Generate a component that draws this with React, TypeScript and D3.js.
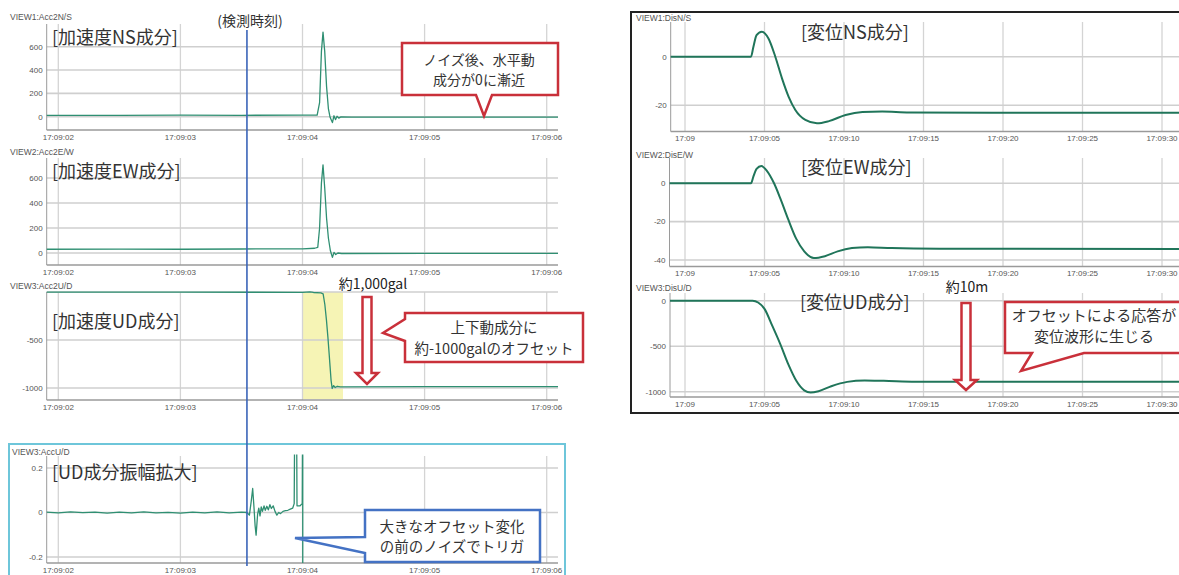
import React from "react";
import * as d3 from "d3";

type Pt = [number, number];

// time = seconds after 17:09:00
const accTimeTicks = [2, 3, 4, 5, 6];
const accTimeLabels = ["17:09:02", "17:09:03", "17:09:04", "17:09:05", "17:09:06"];
const disTimeTicks = [0, 5, 10, 15, 20, 25, 30];
const disTimeLabels = ["17:09", "17:09:05", "17:09:10", "17:09:15", "17:09:20", "17:09:25", "17:09:30"];

const triggerTime = 3.545;

const hAccTicks = [0, 200, 400, 600];
const hAccLabels = ["0", "200", "400", "600"];
const vAccTicks = [-1000, -500, 0];
const vAccLabels = ["-1000", "-500", ""];
const zoomTicks = [-0.2, 0, 0.2];
const zoomLabels = ["-0.2", "0", "0.2"];
const disNsTicks = [-20, 0];
const disNsLabels = ["-20", "0"];
const disEwTicks = [-40, -20, 0];
const disEwLabels = ["-40", "-20", "0"];
const disUdTicks = [-1000, -500, 0];
const disUdLabels = ["-1000", "-500", "0"];

const accNS: Pt[] = [
  [1.9, 12], [2.5, 11], [3.0, 13], [3.5, 12], [4.0, 14], [4.12, 13], [4.14, 120],
  [4.155, 560], [4.168, 725], [4.182, 560], [4.197, 260], [4.212, 70], [4.226, -5],
  [4.245, -50], [4.258, 8], [4.27, -25], [4.283, 4], [4.297, -12], [4.315, -2],
  [4.4, -4], [5.0, -4], [6.1, -4],
];

const accEW: Pt[] = [
  [1.9, 30], [2.5, 31], [3.0, 30], [3.5, 32], [4.0, 33], [4.1, 38], [4.125, 45],
  [4.14, 200], [4.155, 560], [4.168, 705], [4.182, 520], [4.197, 280], [4.212, 120],
  [4.228, 20], [4.245, -35], [4.258, 5], [4.272, -12], [4.29, 0], [4.32, -4],
  [5.0, -3], [6.1, -3],
];

const accUD: Pt[] = [
  [1.9, -2], [3.0, -2], [4.0, -3], [4.06, 2], [4.09, -5], [4.15, -10], [4.169, -20],
  [4.183, -130], [4.196, -290], [4.208, -470], [4.218, -640], [4.226, -780],
  [4.234, -920], [4.243, -1005], [4.255, -975], [4.268, -995], [4.285, -982],
  [4.31, -988], [5.0, -986], [6.1, -986],
];

const accUDZoom: Pt[] = [
  [1.9, 0.002], [2.0, -0.002], [2.1, 0.003], [2.2, -0.001], [2.3, 0.002], [2.4, -0.003],
  [2.5, 0.002], [2.6, -0.002], [2.7, 0.003], [2.8, -0.002], [2.9, 0.001], [3.0, -0.003],
  [3.1, 0.002], [3.2, -0.002], [3.3, 0.003], [3.4, -0.002], [3.5, 0.002], [3.545, 0],
  [3.565, -0.012], [3.58, 0.05], [3.592, 0.108], [3.603, 0.02], [3.612, -0.06],
  [3.62, -0.102], [3.632, -0.01], [3.642, 0.02], [3.652, -0.015], [3.662, 0.025],
  [3.672, 0.005], [3.685, 0.03], [3.695, 0.01], [3.708, 0.028], [3.72, 0.012],
  [3.733, 0.035], [3.745, 0.018], [3.76, 0.03], [3.775, 0.005], [3.79, -0.012],
  [3.805, 0.0], [3.82, -0.005], [3.84, 0.005], [3.86, 0.008], [3.88, 0.01], [3.9, 0.015],
  [3.92, 0.02], [3.932, 0.04], [3.938, 0.6], [3.95, 0.6], [3.955, 0.03], [3.98, 0.03],
  [3.998, 0.04], [4.002, 0.6], [4.015, -1000], [6.1, -1000],
];

const disNS: Pt[] = [
  [-1, 0], [4.15, 0], [4.3, 4], [4.5, 8.9], [4.83, 10.3], [5.25, 7.5], [5.68, 0],
  [6.1, -8.9], [6.52, -16.5], [6.94, -21.9], [7.57, -26], [8.3, -27.4], [9.05, -26.5],
  [10.1, -24], [11.16, -22.8], [12.4, -22.6], [14.1, -23], [20, -23.1], [32, -23.1],
];

const disEW: Pt[] = [
  [-1, 0], [4.15, 0], [4.3, 3.5], [4.5, 7.5], [4.8, 9], [5.15, 6.5], [5.6, 0],
  [6.0, -8], [6.5, -19], [7.0, -29], [7.5, -35.5], [8.1, -39], [8.8, -38],
  [9.6, -35.5], [10.5, -33.8], [11.5, -33.3], [13, -33.8], [16, -34.1], [32, -34.3],
];

const disUD: Pt[] = [
  [-1, 0], [4.25, 0], [4.6, -20], [5.0, -90], [5.5, -280], [6.0, -480], [6.5, -700],
  [7.0, -880], [7.5, -985], [7.9, -1010], [8.4, -995], [9.2, -940], [10.2, -892],
  [11.3, -876], [12.5, -880], [14.5, -890], [32, -892],
];

const jp = "'Noto Sans CJK JP', 'Noto Sans', sans-serif";
const small = "'Liberation Sans', Arial, sans-serif";
const accLine = "#2f8f72";
const disLine = "#20755a";
const red = "#c9303a";

type PanelProps = {
  id: string;
  x: d3.ScaleLinear<number, number>;
  y: d3.ScaleLinear<number, number>;
  box: [number, number, number, number];
  data: Pt[];
  yTicks: number[];
  yLabels: string[];
  xTicks: number[];
  xLabels: string[];
  curve: d3.CurveFactory;
  stroke: string;
  strokeWidth: number;
  label: string;
  labelPos: [number, number];
  title: string;
  titlePos: [number, number];
  under?: React.ReactNode;
};

function Panel(p: PanelProps) {
  const [l, r, t, b] = p.box;
  const { x, y } = p;
  const line = d3.line<Pt>().x((d) => x(d[0])).y((d) => y(d[1])).curve(p.curve);
  return (
    <g>
      <defs>
        <clipPath id={p.id}>
          <rect x={l} y={t - 1.5} width={r - l} height={b - t + 1.5} />
        </clipPath>
      </defs>
      {p.under}
      {p.xTicks.map((v, i) => (
        <line key={"gx" + i} x1={x(v)} x2={x(v)} y1={t} y2={b} stroke="#d4d4d4" strokeWidth={1.3} />
      ))}
      {p.yTicks.map((v, i) => (
        <line key={"gy" + i} x1={l} x2={r} y1={y(v)} y2={y(v)} stroke="#cfcfcf" strokeWidth={1.6} />
      ))}
      <line x1={l} x2={l} y1={t} y2={b} stroke="#9a9a9a" strokeWidth={1} />
      <line x1={l} x2={r} y1={b} y2={b} stroke="#9a9a9a" strokeWidth={1.5} />
      {p.yTicks.map((v, i) => (
        <text key={"ly" + i} x={l - 4} y={y(v)} dy="0.35em" textAnchor="end" fontSize={8} fill="#555" fontFamily={small}>
          {p.yLabels[i]}
        </text>
      ))}
      {p.xTicks.map((v, i) => (
        <text key={"lx" + i} x={x(v)} y={b + 7} dy="0.35em" textAnchor="middle" fontSize={8} fill="#555" fontFamily={small}>
          {p.xLabels[i]}
        </text>
      ))}
      <path
        d={line(p.data) ?? ""}
        fill="none"
        stroke={p.stroke}
        strokeWidth={p.strokeWidth}
        strokeLinejoin="round"
        clipPath={`url(#${p.id})`}
      />
      <text x={p.labelPos[0]} y={p.labelPos[1]} dy="0.35em" fontSize={8.5} fill="#555" fontFamily={small}>
        {p.label}
      </text>
      <text x={p.titlePos[0]} y={p.titlePos[1]} dy="0.35em" fontSize={18} fill="#333" fontFamily={jp}>
        {p.title}
      </text>
    </g>
  );
}

function DownArrow({ cx, top, headY, tip, shaft, head }: { cx: number; top: number; headY: number; tip: number; shaft: number; head: number }) {
  const s = shaft / 2;
  const h = head / 2;
  const d = `M${cx - s},${top} H${cx + s} V${headY} H${cx + h} L${cx},${tip} L${cx - h},${headY} H${cx - s} Z`;
  return <path d={d} fill="#fff" stroke={red} strokeWidth={2.5} strokeLinejoin="miter" />;
}

export default function App() {
  const accX = d3.scaleLinear().domain([2, 6]).range([58.3, 546.7]);
  const disX = d3.scaleLinear().domain([0, 30]).range([685, 1162]);

  const yL1 = d3.scaleLinear().domain([0, 600]).range([116.7, 46.7]);
  const yL2 = d3.scaleLinear().domain([0, 600]).range([253, 178]);
  const yL3 = d3.scaleLinear().domain([-1000, -500]).range([388, 340]);
  const yL4 = d3.scaleLinear().domain([-0.2, 0.2]).range([557, 468]);
  const yR1 = d3.scaleLinear().domain([-20, 0]).range([105.3, 56.7]);
  const yR2 = d3.scaleLinear().domain([-40, 0]).range([260, 183.3]);
  const yR3 = d3.scaleLinear().domain([-1000, 0]).range([391.7, 300.7]);

  const trigX = accX(triggerTime);

  const common = { curve: d3.curveLinear, stroke: accLine, strokeWidth: 1.3, xTicks: accTimeTicks, xLabels: accTimeLabels, x: accX };
  const right = { curve: d3.curveMonotoneX, stroke: disLine, strokeWidth: 2, xTicks: disTimeTicks, xLabels: disTimeLabels, x: disX };

  return (
    <svg width={1179} height={575} style={{ position: "absolute", left: 0, top: 0, background: "#fff" }}>
      <rect x={0} y={0} width={1179} height={575} fill="#fff" />

      {/* left: acceleration */}
      <Panel {...common} id="cL1" y={yL1} box={[46.7, 558, 24, 130]} data={accNS} yTicks={hAccTicks} yLabels={hAccLabels}
        label="VIEW1:Acc2N/S" labelPos={[10, 17]} title="[加速度NS成分]" titlePos={[52, 38]} />
      <Panel {...common} id="cL2" y={yL2} box={[46.7, 558, 158, 265]} data={accEW} yTicks={hAccTicks} yLabels={hAccLabels}
        label="VIEW2:Acc2E/W" labelPos={[10, 152]} title="[加速度EW成分]" titlePos={[52, 172]} />
      <Panel {...common} id="cL3" y={yL3} box={[46.7, 558, 292, 400]} data={accUD} yTicks={vAccTicks} yLabels={vAccLabels}
        label="VIEW3:Acc2U/D" labelPos={[10, 286]} title="[加速度UD成分]" titlePos={[52, 322]}
        under={<rect x={303} y={292} width={40} height={107} fill="#f5f2a8" opacity={0.85} />} />
      <Panel {...common} id="cL4" y={yL4} box={[46.7, 558, 456, 563]} data={accUDZoom} yTicks={zoomTicks} yLabels={zoomLabels}
        label="VIEW3:AccU/D" labelPos={[12, 452]} title="[UD成分振幅拡大]" titlePos={[52, 473]} />
      <rect x={9} y={444} width={556} height={140} fill="none" stroke="#6ec6da" strokeWidth={2} />

      {/* trigger time */}
      <line x1={trigX} x2={trigX} y1={30} y2={566} stroke="#3a64b8" strokeWidth={1.6} />
      <text x={250} y={21} dy="0.35em" textAnchor="middle" fontSize={14} fill="#333" fontFamily={jp}>(検測時刻)</text>

      {/* right: displacement */}
      <Panel {...right} id="cR1" y={yR1} box={[670.7, 1190, 22, 131.5]} data={disNS} yTicks={disNsTicks} yLabels={disNsLabels}
        label="VIEW1:DisN/S" labelPos={[636, 18]} title="[変位NS成分]" titlePos={[801, 33]} />
      <Panel {...right} id="cR2" y={yR2} box={[669.5, 1190, 158, 266.5]} data={disEW} yTicks={disEwTicks} yLabels={disEwLabels}
        label="VIEW2:DisE/W" labelPos={[636, 155]} title="[変位EW成分]" titlePos={[801, 168]} />
      <Panel {...right} id="cR3" y={yR3} box={[670, 1190, 293, 397]} data={disUD} yTicks={disUdTicks} yLabels={disUdLabels}
        label="VIEW3:DisU/D" labelPos={[636, 288]} title="[変位UD成分]" titlePos={[800, 303]} />
      <rect x={631} y={12} width={560} height={401} fill="none" stroke="#222" strokeWidth={2} />

      {/* callouts */}
      <path d="M402,43 H558 V95 H492 L484,116 L476,95 H402 Z" fill="#fff" stroke={red} strokeWidth={2.5} />
      <text x={479} y={60} dy="0.35em" textAnchor="middle" fontSize={14} fill="#333" fontFamily={jp}>ノイズ後、水平動</text>
      <text x={479} y={80} dy="0.35em" textAnchor="middle" fontSize={14} fill="#333" fontFamily={jp}>成分が0に漸近</text>

      <DownArrow cx={367} top={297} headY={373} tip={384} shaft={9} head={22} />
      <text x={373} y={284} dy="0.35em" textAnchor="middle" fontSize={14} fill="#222" fontFamily={jp}>約1,000gal</text>
      <path d="M405,313 H583 V362 H405 V341 L383,333 L405,319 Z" fill="#fff" stroke={red} strokeWidth={2.5} />
      <text x={494} y={328} dy="0.35em" textAnchor="middle" fontSize={14.5} fill="#333" fontFamily={jp}>上下動成分に</text>
      <text x={494} y={349} dy="0.35em" textAnchor="middle" fontSize={14.5} fill="#333" fontFamily={jp}>約-1000galのオフセット</text>

      <path d="M365,510 H540 V562 H365 V553 L295,538 L365,537 Z" fill="#fff" stroke="#4472c4" strokeWidth={2.5} />
      <text x={452} y={527} dy="0.35em" textAnchor="middle" fontSize={14.5} fill="#333" fontFamily={jp}>大きなオフセット変化</text>
      <text x={452} y={547} dy="0.35em" textAnchor="middle" fontSize={14.5} fill="#333" fontFamily={jp}>の前のノイズでトリガ</text>

      <DownArrow cx={966} top={303} headY={380} tip={390} shaft={9} head={22} />
      <text x={967} y={287} dy="0.35em" textAnchor="middle" fontSize={14} fill="#222" fontFamily={jp}>約10m</text>
      <path d="M1005,302 H1195 V353 H1084 L1021,371 L1032,353 H1005 Z" fill="#fff" stroke={red} strokeWidth={2.5} />
      <text x={1094} y={316} dy="0.35em" textAnchor="middle" fontSize={15} fill="#333" fontFamily={jp}>オフセットによる応答が</text>
      <text x={1094} y={337} dy="0.35em" textAnchor="middle" fontSize={15} fill="#333" fontFamily={jp}>変位波形に生じる</text>
    </svg>
  );
}
